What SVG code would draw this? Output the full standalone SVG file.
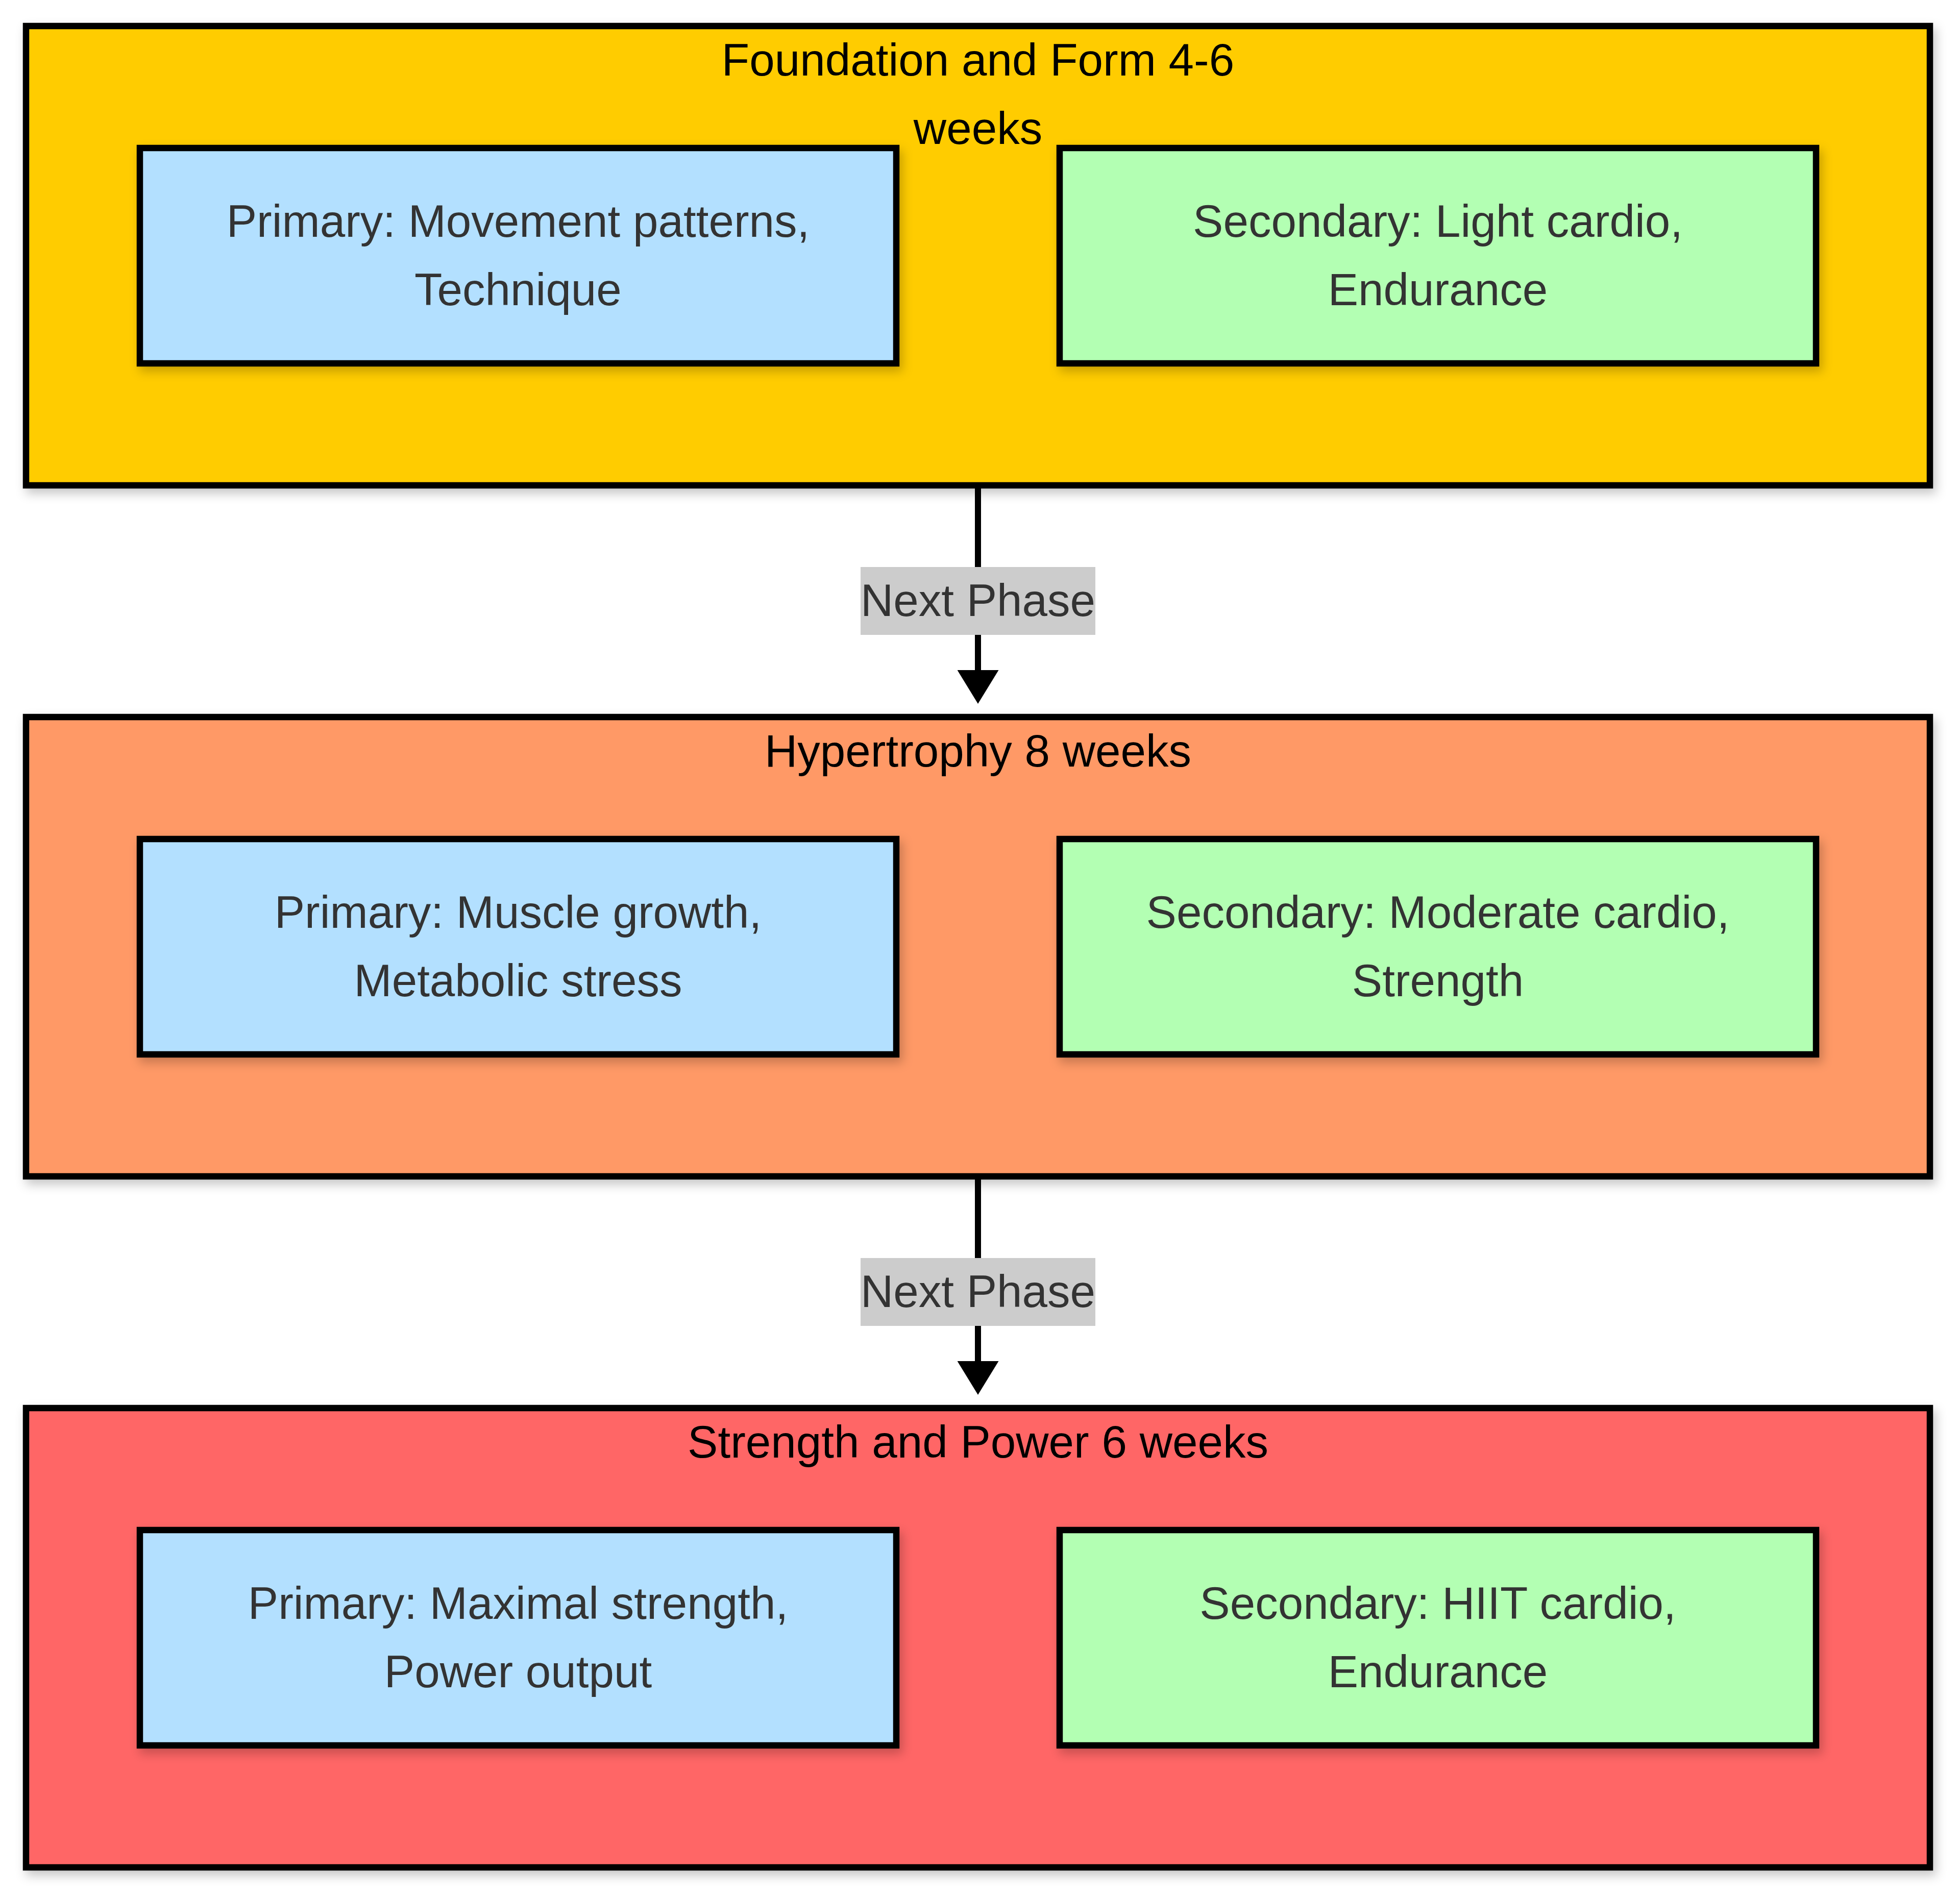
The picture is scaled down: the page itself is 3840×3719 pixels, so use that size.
<svg xmlns="http://www.w3.org/2000/svg" width="3840" height="3719" viewBox="0 0 3840 3719">
<style>
  .phase { stroke: #000; stroke-width: 12.5; }
  .node { stroke: #000; stroke-width: 12.5; }
  .primary { fill: #B3E0FF; }
  .secondary { fill: #B3FFB3; }
  .title { font-family: "Liberation Sans", Arial, sans-serif; font-size: 89px; fill: #000; text-anchor: middle; }
  .label { font-family: "Liberation Sans", Arial, sans-serif; font-size: 89px; fill: #333; text-anchor: middle; }
  .edge { stroke: #000; stroke-width: 12; fill: none; }
  .elbg { fill: #CCCCCC; }
</style>
<defs>
  <filter id="shadow" x="-10%" y="-10%" width="120%" height="130%">
    <feDropShadow dx="6" dy="10" stdDeviation="10" flood-color="#000" flood-opacity="0.22"/>
  </filter>
  <marker id="arrow" viewBox="0 0 10 10" refX="0" refY="5" markerWidth="66" markerHeight="81" markerUnits="userSpaceOnUse" orient="auto" preserveAspectRatio="none">
    <path d="M0,0 L10,5 L0,10 z" fill="#000"/>
  </marker>
</defs>
<rect width="3840" height="3719" fill="#fff"/>

<g id="phase1">
  <rect class="phase" x="51" y="51" width="3730" height="900" fill="#FFCC00" filter="url(#shadow)"/>
  <text class="title" x="1916" y="148">Foundation and Form 4-6</text>
  <text class="title" x="1916" y="282">weeks</text>
</g>
<g id="phase1_primary">
  <rect class="node primary" x="274" y="290" width="1482" height="422" filter="url(#shadow)"/>
  <text class="label" x="1015" y="464">Primary: Movement patterns,</text>
  <text class="label" x="1015" y="598">Technique</text>
</g>
<g id="phase1_secondary">
  <rect class="node secondary" x="2076" y="290" width="1482" height="422" filter="url(#shadow)"/>
  <text class="label" x="2817" y="464">Secondary: Light cardio,</text>
  <text class="label" x="2817" y="598">Endurance</text>
</g>

<g id="phase2">
  <rect class="phase" x="51" y="1405" width="3730" height="900" fill="#FF9966" filter="url(#shadow)"/>
  <text class="title" x="1916" y="1502">Hypertrophy 8 weeks</text>
</g>
<g id="phase2_primary">
  <rect class="node primary" x="274" y="1644" width="1482" height="422" filter="url(#shadow)"/>
  <text class="label" x="1015" y="1818">Primary: Muscle growth,</text>
  <text class="label" x="1015" y="1952">Metabolic stress</text>
</g>
<g id="phase2_secondary">
  <rect class="node secondary" x="2076" y="1644" width="1482" height="422" filter="url(#shadow)"/>
  <text class="label" x="2817" y="1818">Secondary: Moderate cardio,</text>
  <text class="label" x="2817" y="1952">Strength</text>
</g>

<g id="phase3">
  <rect class="phase" x="51" y="2759" width="3730" height="900" fill="#FF6666" filter="url(#shadow)"/>
  <text class="title" x="1916" y="2856">Strength and Power 6 weeks</text>
</g>
<g id="phase3_primary">
  <rect class="node primary" x="274" y="2998" width="1482" height="422" filter="url(#shadow)"/>
  <text class="label" x="1015" y="3172">Primary: Maximal strength,</text>
  <text class="label" x="1015" y="3306">Power output</text>
</g>
<g id="phase3_secondary">
  <rect class="node secondary" x="2076" y="2998" width="1482" height="422" filter="url(#shadow)"/>
  <text class="label" x="2817" y="3172">Secondary: HIIT cardio,</text>
  <text class="label" x="2817" y="3306">Endurance</text>
</g>

<g id="edges">
  <g id="edge1">
    <path class="edge" d="M1916,957 L1916,1313" marker-end="url(#arrow)"/>
    <rect class="elbg" x="1686" y="1111" width="460" height="133"/>
    <text class="label" x="1916" y="1207">Next Phase</text>
  </g>
  <g id="edge2">
    <path class="edge" d="M1916,2311 L1916,2667" marker-end="url(#arrow)"/>
    <rect class="elbg" x="1686" y="2465" width="460" height="133"/>
    <text class="label" x="1916" y="2561">Next Phase</text>
  </g>
</g>
</svg>
